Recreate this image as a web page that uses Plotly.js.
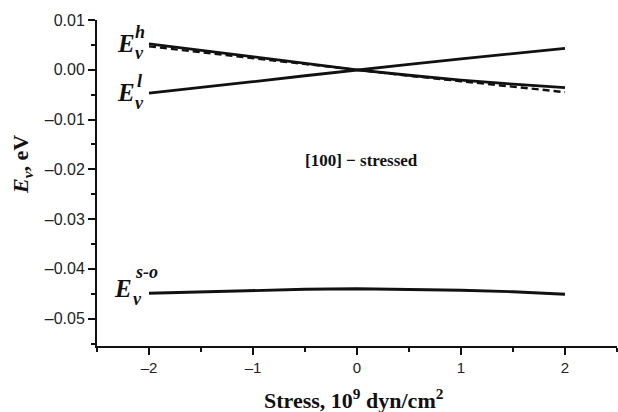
<!DOCTYPE html>
<html>
<head>
<meta charset="utf-8">
<script src="https://cdn.plot.ly/plotly-3.0.1.min.js"></script>
<style>html,body{margin:0;padding:0;background:#fff;}#chart{width:618px;height:412px;}</style>
</head>
<body>
<div id="chart"></div>
<script>
// Stress, 10^9 dyn/cm^2
const stress = [-2, -1.5, -1, -0.5, 0, 0.5, 1, 1.5, 2];
// E_v^h (solid) and its dashed companion
const eHeavy = [0.0052, 0.0039, 0.0026, 0.0013, 0, -0.0011, -0.0021, -0.0029, -0.0036];
const eHeavyDashed = [0.0047, 0.0035, 0.0024, 0.0012, 0, -0.0012, -0.0023, -0.0034, -0.0045];
// E_v^l
const eLight = [-0.0047, -0.0036, -0.0024, -0.0012, 0, 0.0011, 0.0022, 0.0033, 0.0043];
// E_v^{s-o}
const eSplitOff = [-0.0449, -0.0446, -0.0443, -0.0441, -0.0440, -0.0441, -0.0443, -0.0446, -0.0451];

const yTickVals = [0.01, 0.00, -0.01, -0.02, -0.03, -0.04, -0.05];
const yTickText = ['0.01', '0.00', '\u20130.01', '\u20130.02', '\u20130.03', '\u20130.04', '\u20130.05'];
const xTickVals = [-2, -1, 0, 1, 2];
const xTickText = ['\u20132', '\u20131', '0', '1', '2'];

const W = 618, H = 412, L = 97, R = 1, T = 20, B = 66;
const px = v => (v - L) / (W - L - R);
const py = v => 1 - (v - T) / (H - T - B);

const lineStyle = {color: '#111', width: 2.8};
const traces = [
  {x: stress, y: eHeavyDashed, mode: 'lines', line: {color: '#111', width: 2.4, dash: '7px,4px'}, hoverinfo: 'skip'},
  {x: stress, y: eHeavy, mode: 'lines', line: lineStyle},
  {x: stress, y: eLight, mode: 'lines', line: lineStyle},
  {x: stress, y: eSplitOff, mode: 'lines', line: lineStyle}
];

const serif = 'Liberation Serif, Times New Roman, serif';
function ann(text, x, y, size, extra) {
  return Object.assign({text: text, xref: 'paper', yref: 'paper', x: px(x), y: py(y),
    xanchor: 'center', yanchor: 'middle', showarrow: false,
    font: {family: serif, size: size, color: '#111'}}, extra || {});
}
const bi = s => '<b><i>' + s + '</i></b>';
const annotations = [
  ann(bi('E'), 126, 43, 25), ann(bi('v'), 139, 53, 18), ann(bi('h'), 140, 32, 18),
  ann(bi('E'), 126, 92, 25), ann(bi('v'), 139, 103, 18), ann(bi('l'), 139, 81, 18),
  ann(bi('E'), 123, 288, 25), ann(bi('v'), 137, 299, 18), ann(bi('s-o'), 146, 272, 18),
  ann('<b>[100] \u2212 stressed</b>', 361, 160, 17),
  ann('<b><i>E<sub>v</sub></i>, eV</b>', 22, 165, 22, {textangle: -90}),
  ann('<b>Stress, 10<sup>9</sup> dyn/cm<sup>2</sup></b>', 354, 399, 22)
];

const layout = {
  width: W, height: H,
  margin: {l: L, r: R, t: T, b: B, pad: 0},
  paper_bgcolor: '#fff', plot_bgcolor: '#fff',
  showlegend: false,
  font: {family: 'Liberation Sans, Arial, sans-serif', size: 13, color: '#222'},
  xaxis: {
    range: [-2.5, 2.5], showgrid: false, zeroline: false,
    showline: true, linecolor: '#111', linewidth: 2,
    ticks: 'outside', ticklen: 7, tickwidth: 2, tickcolor: '#111',
    tickvals: xTickVals, ticktext: xTickText,
    minor: {dtick: 0.5, ticks: 'outside', ticklen: 4, tickwidth: 2, tickcolor: '#111'},
    tickfont: {size: 15}
  },
  yaxis: {
    range: [-0.0555, 0.01], showgrid: false, zeroline: false,
    showline: true, linecolor: '#111', linewidth: 2,
    ticks: 'outside', ticklen: 7, tickwidth: 2, tickcolor: '#111',
    tickvals: yTickVals, ticktext: yTickText,
    minor: {dtick: 0.005, ticks: 'outside', ticklen: 4, tickwidth: 2, tickcolor: '#111'},
    tickfont: {size: 16}
  },
  annotations: annotations
};

Plotly.newPlot('chart', traces, layout, {staticPlot: true, displayModeBar: false});
</script>
</body>
</html>
